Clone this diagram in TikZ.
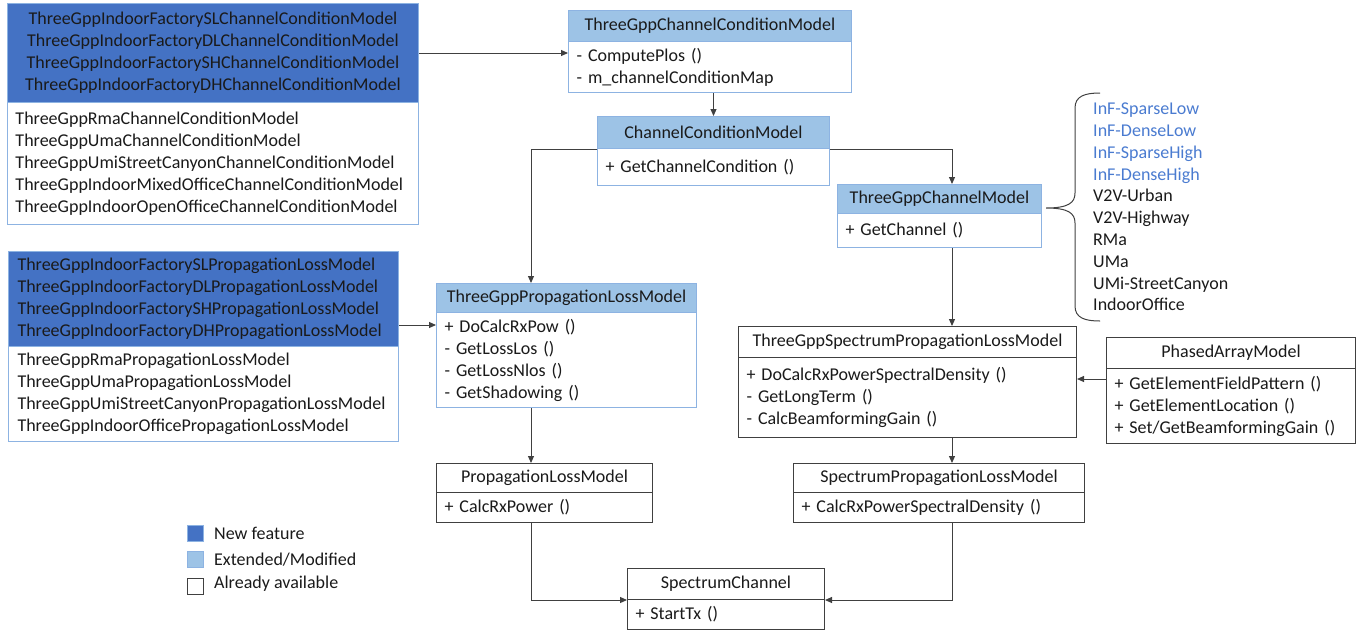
\documentclass[tikz,border=0pt]{standalone}
\usepackage{fontspec}
\setmainfont{Carlito}
\usetikzlibrary{arrows.meta}
\definecolor{newf}{HTML}{4472C4}
\definecolor{extf}{HTML}{9DC3E6}
\definecolor{bord}{HTML}{8DB3E2}
\definecolor{dk}{HTML}{404040}
\definecolor{txt}{HTML}{1A1A1A}
\definecolor{lstblue}{HTML}{4A7BD0}
\tikzset{
  ff/.style={font={\fontsize{18}{22}\selectfont}, text=txt},
  part/.style={ff, anchor=north west, inner xsep=8pt, inner ysep=0pt, line width=1pt},
  hdrb/.style={part, draw=bord, fill=extf, align=center},
  bodyb/.style={part, draw=bord, fill=white, align=left},
  hdrk/.style={part, draw=dk, fill=white, align=center},
  bodyk/.style={part, draw=dk, fill=white, align=left},
  newpart/.style={part, draw=bord, fill=newf},
  conn/.style={draw=dk, line width=1pt},
  arr/.style={conn, -{Triangle[length=7pt,width=6pt]}},
  legsq/.style={anchor=north west, minimum size=16pt, inner sep=0pt, line width=1pt},
}
\begin{document}
\begin{tikzpicture}[x=1pt,y=-1pt]
\useasboundingbox (0,0) rectangle (1367,630);

% ---- New-feature channel condition block
\node[newpart, align=center, text width=395pt, minimum height=99pt] (Ad) at (7,3)
  {ThreeGppIndoorFactorySLChannelConditionModel\\ThreeGppIndoorFactoryDLChannelConditionModel\\ThreeGppIndoorFactorySHChannelConditionModel\\ThreeGppIndoorFactoryDHChannelConditionModel};
\node[bodyb, text width=395pt, minimum height=122pt] (Ab) at (7,102)
  {ThreeGppRmaChannelConditionModel\\ThreeGppUmaChannelConditionModel\\ThreeGppUmiStreetCanyonChannelConditionModel\\ThreeGppIndoorMixedOfficeChannelConditionModel\\ThreeGppIndoorOpenOfficeChannelConditionModel};

% ---- ThreeGppChannelConditionModel
\node[hdrb, text width=267pt, minimum height=31pt] (Bh) at (568,10) {ThreeGppChannelConditionModel};
\node[bodyb, text width=267pt, minimum height=51pt] (Bb) at (568,41) {- ComputePlos ()\\- m\_channelConditionMap};

% ---- ChannelConditionModel
\node[hdrb, text width=216pt, minimum height=32pt] (Ch) at (597,116) {ChannelConditionModel};
\node[bodyb, text width=216pt, minimum height=37pt] (Cb) at (597,148) {+ GetChannelCondition ()};

% ---- ThreeGppChannelModel
\node[hdrb, text width=188pt, minimum height=29pt] (Dh) at (837,184) {ThreeGppChannelModel};
\node[bodyb, text width=188pt, minimum height=34pt] (Db) at (837,213) {+ GetChannel ()};

% ---- scenario list with brace
\draw[line width=1pt, draw=dk] (1100,93) .. controls (1085,93) and (1075,96) .. (1075,108)
  -- (1075,193) .. controls (1075,203) and (1068,208) .. (1046,208)
  .. controls (1068,208) and (1075,213) .. (1075,223)
  -- (1075,306) .. controls (1075,318) and (1085,321) .. (1100,321);
\node[anchor=west, inner sep=0pt, align=left, font={\fontsize{18}{21.8}\selectfont}, text=txt] (lst) at (1093,207)
  {\textcolor{lstblue}{InF-SparseLow}\\\textcolor{lstblue}{InF-DenseLow}\\\textcolor{lstblue}{InF-SparseHigh}\\\textcolor{lstblue}{InF-DenseHigh}\\V2V-Urban\\V2V-Highway\\RMa\\UMa\\UMi-StreetCanyon\\IndoorOffice};

% ---- New-feature propagation block
\node[newpart, align=left, inner xsep=9pt, text width=372pt, minimum height=95pt] (Hd) at (8,251)
  {ThreeGppIndoorFactorySLPropagationLossModel\\ThreeGppIndoorFactoryDLPropagationLossModel\\ThreeGppIndoorFactorySHPropagationLossModel\\ThreeGppIndoorFactoryDHPropagationLossModel};
\node[bodyb, inner xsep=9pt, text width=372pt, minimum height=95pt] (Hb) at (8,346)
  {ThreeGppRmaPropagationLossModel\\ThreeGppUmaPropagationLossModel\\ThreeGppUmiStreetCanyonPropagationLossModel\\ThreeGppIndoorOfficePropagationLossModel};

% ---- ThreeGppPropagationLossModel
\node[hdrb, text width=244pt, minimum height=29pt] (Ih) at (436,283) {ThreeGppPropagationLossModel};
\node[bodyb, text width=244pt, minimum height=95pt] (Ib) at (436,312) {+ DoCalcRxPow ()\\- GetLossLos ()\\- GetLossNlos ()\\- GetShadowing ()};

% ---- ThreeGppSpectrumPropagationLossModel
\node[hdrk, text width=322pt, minimum height=31pt] (Eh) at (738,326) {ThreeGppSpectrumPropagationLossModel};
\node[bodyk, text width=322pt, minimum height=80pt] (Eb) at (738,357) {+ DoCalcRxPowerSpectralDensity ()\\- GetLongTerm ()\\- CalcBeamformingGain ()};

% ---- PhasedArrayModel
\node[hdrk, text width=233pt, minimum height=31pt] (Fh) at (1106,337) {PhasedArrayModel};
\node[bodyk, text width=233pt, minimum height=75pt] (Fb) at (1106,368) {+ GetElementFieldPattern ()\\+ GetElementLocation ()\\+ Set/GetBeamformingGain ()};

% ---- PropagationLossModel
\node[hdrk, text width=200pt, minimum height=29pt] (Jh) at (436,463) {PropagationLossModel};
\node[bodyk, text width=200pt, minimum height=30pt] (Jb) at (436,492) {+ CalcRxPower ()};

% ---- SpectrumPropagationLossModel
\node[hdrk, text width=275pt, minimum height=29pt] (Gh) at (793,463) {SpectrumPropagationLossModel};
\node[bodyk, text width=275pt, minimum height=30pt] (Gb) at (793,492) {+ CalcRxPowerSpectralDensity ()};

% ---- SpectrumChannel
\node[hdrk, text width=181pt, minimum height=31pt] (Kh) at (627,568) {SpectrumChannel};
\node[bodyk, text width=181pt, minimum height=30pt] (Kb) at (627,599) {+ StartTx ()};

% ---- legend
\node[legsq, draw=bord, fill=newf] (l1) at (187,525) {};
\node[legsq, draw=bord, fill=extf] (l2) at (187,551) {};
\node[legsq, draw=dk, fill=white] (l3) at (187,578) {};
\node[ff, anchor=west, inner sep=0pt] (t1) at ([xshift=10pt]l1.east) {New feature};
\node[ff, anchor=west, inner sep=0pt] (t2) at ([xshift=10pt]l2.east) {Extended/Modified};
\node[ff, anchor=west, inner sep=0pt] (t3) at ([xshift=10pt,yshift=3pt]l3.east) {Already available};

% ---- connectors
\coordinate (xl) at (531,0);
\coordinate (xr) at (952,0);
\coordinate (yF) at (0,379);
\coordinate (yH) at (0,325);
\draw[arr] (Ad.east) -- (Ad.east -| Bb.west);
\draw[arr] (Ch.north |- Bb.south) -- (Ch.north);
\draw[arr] (Ch.south west) -| (Ih.north -| xl);
\draw[arr] (Ch.south east) -| (Dh.north -| xr);
\draw[arr] (Db.south -| xr) -- (Eh.north -| xr);
\draw[arr] (Fb.west |- yF) -- (Eb.east |- yF);
\draw[arr] (Eb.south -| xr) -- (Gh.north -| xr);
\draw[arr] (Hd.east |- yH) -- (Ib.west |- yH);
\draw[arr] (Ib.south -| xl) -- (Jh.north -| xl);
\draw[arr] (Jb.south -| xl) |- (Kh.south west);
\draw[arr] (Gb.south -| xr) |- (Kh.south east);
\end{tikzpicture}
\end{document}
